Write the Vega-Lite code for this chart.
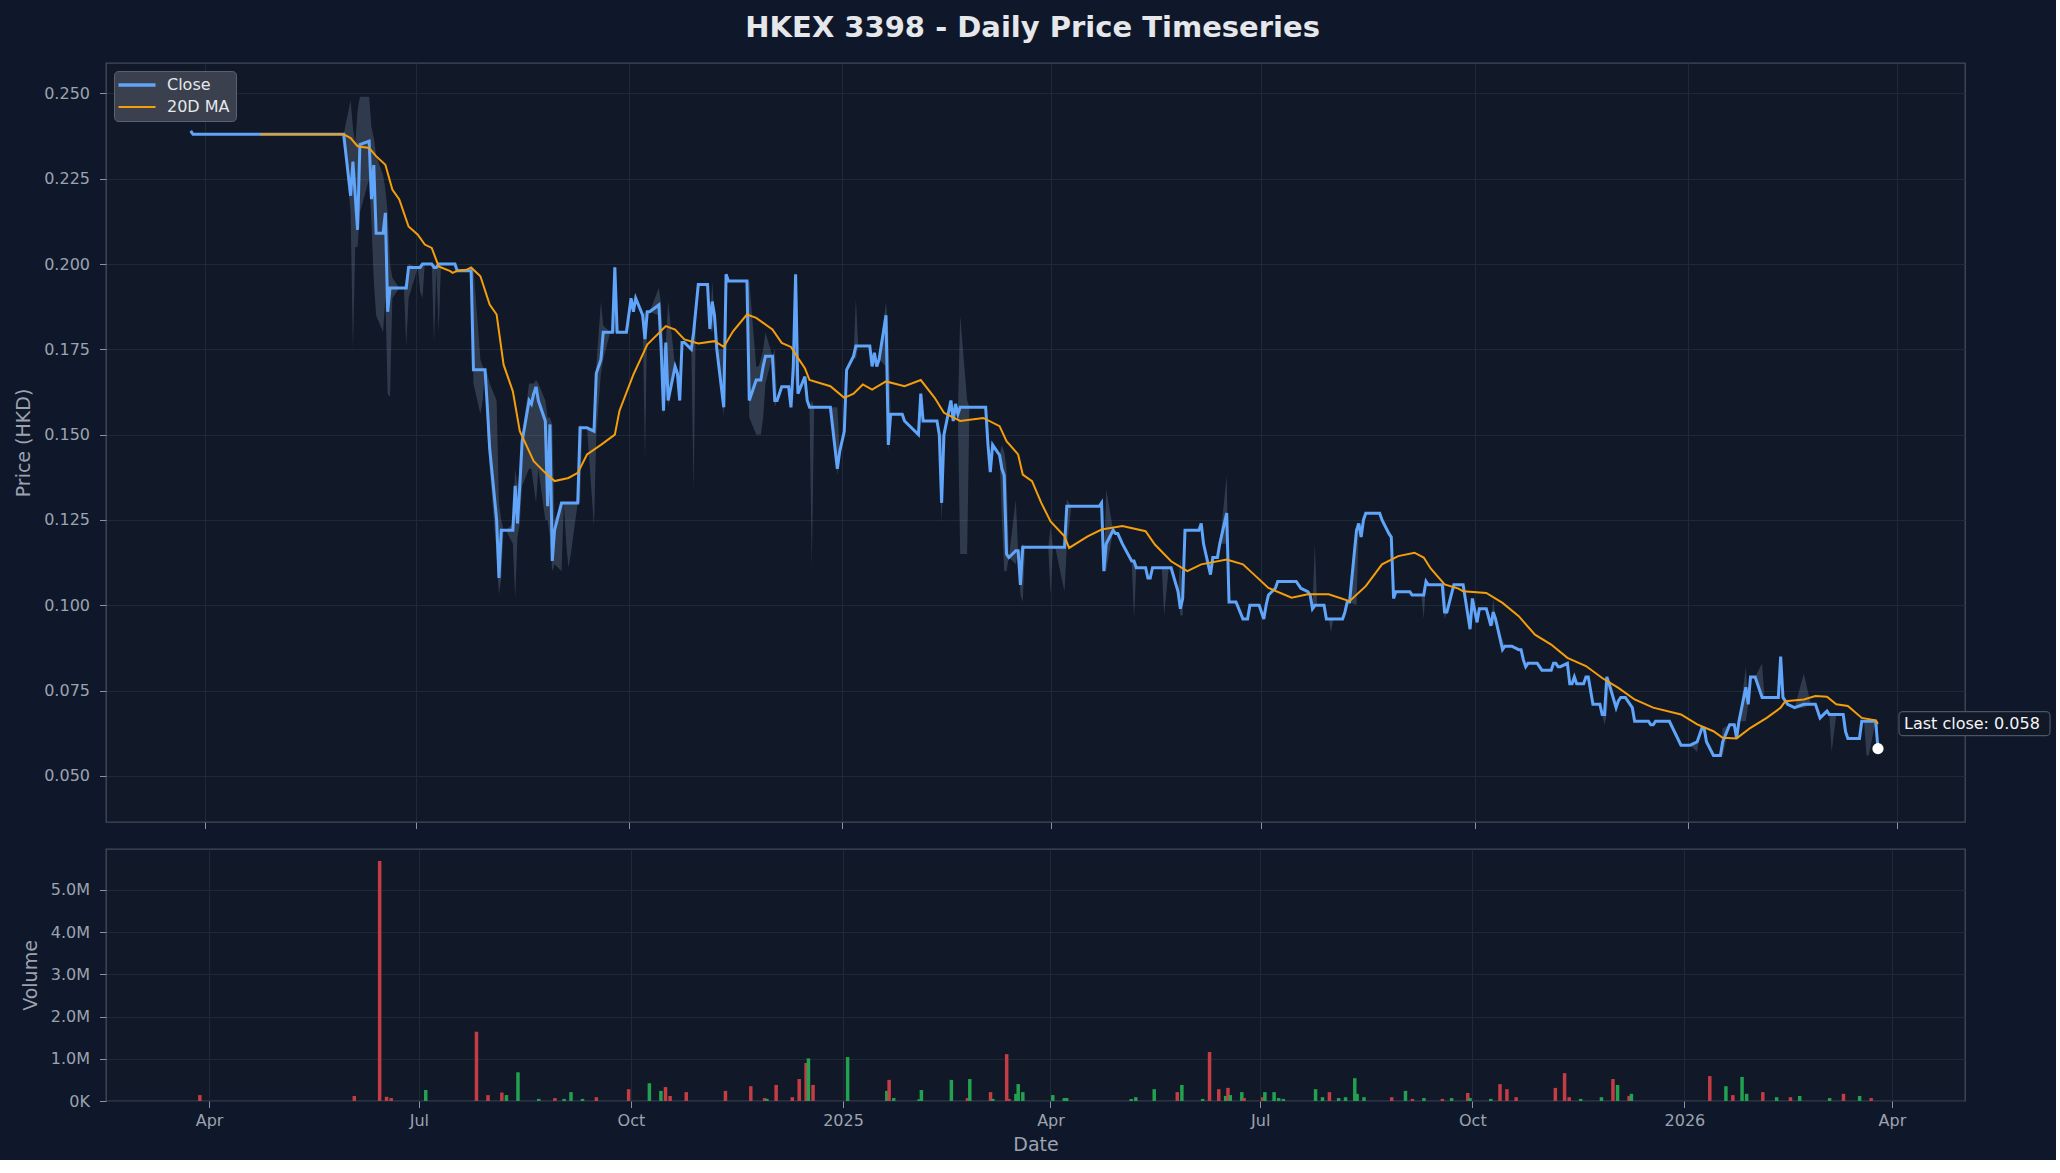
{
"$schema": "https://vega.github.io/schema/vega-lite/v6.json",
"background": "#0f172a",
"padding": {"left": 14, "top": 14, "right": 4, "bottom": 4},
"spacing": 18,
"resolve": {"scale": {"color": "independent"}, "legend": {"color": "independent"}},
"title": {"text": "HKEX 3398 - Daily Price Timeseries", "fontSize": 29, "fontWeight": "bold", "color": "#e5e7eb", "font": "DejaVu Sans", "anchor": "middle", "offset": 19},
"config": {
  "font": "DejaVu Sans",
  "view": {"fill": "#111827", "stroke": "#424b5c", "strokeWidth": 1.3},
  "axis": {"domain": false, "grid": true, "gridColor": "#1f2937", "gridWidth": 1, "tickColor": "#8b93a1", "tickSize": 6.5, "tickWidth": 1, "labelColor": "#9ca3af", "labelFontSize": 16, "labelFont": "DejaVu Sans", "titleColor": "#9ca3af", "titleFontSize": 19, "titleFontWeight": "normal", "titleFont": "DejaVu Sans", "labelPadding": 10, "titlePadding": 10}
},
"datasets": {
"px": [
{"date":"2024-03-26","close":0.239,"high":0.239,"low":0.239},
{"date":"2024-03-27","close":0.238,"high":0.238,"low":0.238},
{"date":"2024-04-12","close":0.238,"high":0.238,"low":0.238},
{"date":"2024-05-02","close":0.238,"high":0.238,"low":0.238},
{"date":"2024-05-31","close":0.238,"high":0.238,"low":0.238},
{"date":"2024-06-03","close":0.220,"high":0.248,"low":0.215},
{"date":"2024-06-04","close":0.230,"high":0.240,"low":0.175},
{"date":"2024-06-05","close":0.220,"high":0.235,"low":0.205},
{"date":"2024-06-06","close":0.210,"high":0.245,"low":0.205},
{"date":"2024-06-07","close":0.235,"high":0.249,"low":0.215},
{"date":"2024-06-11","close":0.236,"high":0.249,"low":0.225},
{"date":"2024-06-12","close":0.219,"high":0.240,"low":0.212},
{"date":"2024-06-13","close":0.229,"high":0.237,"low":0.195},
{"date":"2024-06-14","close":0.209,"high":0.232,"low":0.185},
{"date":"2024-06-17","close":0.209,"high":0.226,"low":0.180},
{"date":"2024-06-18","close":0.215,"high":0.222,"low":0.190},
{"date":"2024-06-19","close":0.186,"high":0.215,"low":0.162},
{"date":"2024-06-20","close":0.193,"high":0.200,"low":0.161},
{"date":"2024-06-21","close":0.193,"high":0.196,"low":0.190},
{"date":"2024-06-24","close":0.193,"high":0.193,"low":0.193},
{"date":"2024-06-25","close":0.193,"high":0.193,"low":0.193},
{"date":"2024-06-26","close":0.193,"high":0.193,"low":0.193},
{"date":"2024-06-27","close":0.193,"high":0.196,"low":0.176},
{"date":"2024-06-28","close":0.199,"high":0.200,"low":0.190},
{"date":"2024-07-02","close":0.199,"high":0.199,"low":0.199},
{"date":"2024-07-03","close":0.199,"high":0.199,"low":0.192},
{"date":"2024-07-04","close":0.200,"high":0.200,"low":0.190},
{"date":"2024-07-05","close":0.200,"high":0.200,"low":0.200},
{"date":"2024-07-08","close":0.200,"high":0.200,"low":0.200},
{"date":"2024-07-09","close":0.199,"high":0.200,"low":0.177},
{"date":"2024-07-10","close":0.199,"high":0.199,"low":0.199},
{"date":"2024-07-11","close":0.200,"high":0.200,"low":0.180},
{"date":"2024-07-12","close":0.200,"high":0.200,"low":0.200},
{"date":"2024-07-15","close":0.200,"high":0.200,"low":0.200},
{"date":"2024-07-17","close":0.200,"high":0.200,"low":0.200},
{"date":"2024-07-18","close":0.200,"high":0.200,"low":0.200},
{"date":"2024-07-19","close":0.198,"high":0.198,"low":0.198},
{"date":"2024-07-22","close":0.198,"high":0.198,"low":0.198},
{"date":"2024-07-24","close":0.198,"high":0.198,"low":0.198},
{"date":"2024-07-25","close":0.198,"high":0.198,"low":0.198},
{"date":"2024-07-26","close":0.169,"high":0.199,"low":0.165},
{"date":"2024-07-29","close":0.169,"high":0.172,"low":0.156},
{"date":"2024-07-30","close":0.169,"high":0.170,"low":0.160},
{"date":"2024-07-31","close":0.169,"high":0.169,"low":0.169},
{"date":"2024-08-01","close":0.158,"high":0.168,"low":0.150},
{"date":"2024-08-02","close":0.146,"high":0.165,"low":0.140},
{"date":"2024-08-05","close":0.125,"high":0.160,"low":0.115},
{"date":"2024-08-06","close":0.108,"high":0.130,"low":0.103},
{"date":"2024-08-07","close":0.122,"high":0.125,"low":0.108},
{"date":"2024-08-08","close":0.122,"high":0.122,"low":0.122},
{"date":"2024-08-09","close":0.122,"high":0.122,"low":0.122},
{"date":"2024-08-12","close":0.122,"high":0.124,"low":0.118},
{"date":"2024-08-13","close":0.135,"high":0.140,"low":0.102},
{"date":"2024-08-14","close":0.124,"high":0.135,"low":0.120},
{"date":"2024-08-15","close":0.135,"high":0.140,"low":0.124},
{"date":"2024-08-16","close":0.148,"high":0.150,"low":0.135},
{"date":"2024-08-19","close":0.160,"high":0.165,"low":0.140},
{"date":"2024-08-20","close":0.159,"high":0.165,"low":0.140},
{"date":"2024-08-21","close":0.162,"high":0.165,"low":0.135},
{"date":"2024-08-22","close":0.164,"high":0.166,"low":0.130},
{"date":"2024-08-23","close":0.160,"high":0.165,"low":0.140},
{"date":"2024-08-26","close":0.154,"high":0.160,"low":0.125},
{"date":"2024-08-27","close":0.129,"high":0.155,"low":0.125},
{"date":"2024-08-28","close":0.153,"high":0.155,"low":0.120},
{"date":"2024-08-29","close":0.113,"high":0.153,"low":0.110},
{"date":"2024-08-30","close":0.122,"high":0.125,"low":0.112},
{"date":"2024-09-02","close":0.130,"high":0.130,"low":0.110},
{"date":"2024-09-03","close":0.130,"high":0.130,"low":0.130},
{"date":"2024-09-04","close":0.130,"high":0.130,"low":0.118},
{"date":"2024-09-05","close":0.130,"high":0.130,"low":0.111},
{"date":"2024-09-06","close":0.130,"high":0.130,"low":0.115},
{"date":"2024-09-09","close":0.130,"high":0.130,"low":0.130},
{"date":"2024-09-10","close":0.152,"high":0.153,"low":0.130},
{"date":"2024-09-11","close":0.152,"high":0.152,"low":0.152},
{"date":"2024-09-12","close":0.152,"high":0.152,"low":0.152},
{"date":"2024-09-13","close":0.152,"high":0.152,"low":0.152},
{"date":"2024-09-16","close":0.151,"high":0.152,"low":0.123},
{"date":"2024-09-17","close":0.168,"high":0.170,"low":0.150},
{"date":"2024-09-19","close":0.172,"high":0.189,"low":0.168},
{"date":"2024-09-20","close":0.180,"high":0.182,"low":0.172},
{"date":"2024-09-23","close":0.180,"high":0.180,"low":0.180},
{"date":"2024-09-24","close":0.180,"high":0.180,"low":0.180},
{"date":"2024-09-25","close":0.199,"high":0.200,"low":0.180},
{"date":"2024-09-26","close":0.180,"high":0.180,"low":0.180},
{"date":"2024-09-27","close":0.180,"high":0.180,"low":0.180},
{"date":"2024-09-30","close":0.180,"high":0.180,"low":0.180},
{"date":"2024-10-02","close":0.190,"high":0.190,"low":0.190},
{"date":"2024-10-03","close":0.186,"high":0.186,"low":0.186},
{"date":"2024-10-04","close":0.190,"high":0.190,"low":0.190},
{"date":"2024-10-07","close":0.185,"high":0.185,"low":0.185},
{"date":"2024-10-08","close":0.178,"high":0.186,"low":0.142},
{"date":"2024-10-09","close":0.186,"high":0.186,"low":0.186},
{"date":"2024-10-10","close":0.186,"high":0.186,"low":0.186},
{"date":"2024-10-14","close":0.188,"high":0.193,"low":0.185},
{"date":"2024-10-15","close":0.175,"high":0.188,"low":0.170},
{"date":"2024-10-16","close":0.157,"high":0.175,"low":0.155},
{"date":"2024-10-17","close":0.177,"high":0.177,"low":0.177},
{"date":"2024-10-18","close":0.160,"high":0.189,"low":0.158},
{"date":"2024-10-21","close":0.170,"high":0.170,"low":0.170},
{"date":"2024-10-22","close":0.168,"high":0.168,"low":0.168},
{"date":"2024-10-23","close":0.160,"high":0.160,"low":0.160},
{"date":"2024-10-24","close":0.177,"high":0.177,"low":0.177},
{"date":"2024-10-25","close":0.177,"high":0.177,"low":0.177},
{"date":"2024-10-28","close":0.175,"high":0.175,"low":0.175},
{"date":"2024-10-29","close":0.180,"high":0.181,"low":0.133},
{"date":"2024-10-30","close":0.187,"high":0.187,"low":0.187},
{"date":"2024-10-31","close":0.194,"high":0.194,"low":0.194},
{"date":"2024-11-01","close":0.194,"high":0.194,"low":0.194},
{"date":"2024-11-04","close":0.194,"high":0.194,"low":0.194},
{"date":"2024-11-05","close":0.181,"high":0.181,"low":0.181},
{"date":"2024-11-06","close":0.189,"high":0.195,"low":0.180},
{"date":"2024-11-07","close":0.185,"high":0.185,"low":0.185},
{"date":"2024-11-08","close":0.175,"high":0.175,"low":0.175},
{"date":"2024-11-11","close":0.158,"high":0.175,"low":0.155},
{"date":"2024-11-12","close":0.197,"high":0.197,"low":0.197},
{"date":"2024-11-13","close":0.195,"high":0.195,"low":0.195},
{"date":"2024-11-15","close":0.195,"high":0.195,"low":0.195},
{"date":"2024-11-18","close":0.195,"high":0.195,"low":0.195},
{"date":"2024-11-20","close":0.195,"high":0.195,"low":0.195},
{"date":"2024-11-21","close":0.195,"high":0.195,"low":0.195},
{"date":"2024-11-22","close":0.160,"high":0.195,"low":0.155},
{"date":"2024-11-25","close":0.166,"high":0.170,"low":0.150},
{"date":"2024-11-26","close":0.166,"high":0.170,"low":0.150},
{"date":"2024-11-27","close":0.166,"high":0.172,"low":0.150},
{"date":"2024-11-28","close":0.170,"high":0.175,"low":0.155},
{"date":"2024-11-29","close":0.173,"high":0.180,"low":0.165},
{"date":"2024-12-02","close":0.173,"high":0.173,"low":0.173},
{"date":"2024-12-03","close":0.160,"high":0.175,"low":0.158},
{"date":"2024-12-04","close":0.160,"high":0.160,"low":0.160},
{"date":"2024-12-05","close":0.162,"high":0.162,"low":0.162},
{"date":"2024-12-06","close":0.164,"high":0.164,"low":0.164},
{"date":"2024-12-09","close":0.164,"high":0.164,"low":0.164},
{"date":"2024-12-10","close":0.158,"high":0.158,"low":0.158},
{"date":"2024-12-11","close":0.170,"high":0.170,"low":0.170},
{"date":"2024-12-12","close":0.197,"high":0.198,"low":0.165},
{"date":"2024-12-13","close":0.162,"high":0.162,"low":0.162},
{"date":"2024-12-16","close":0.167,"high":0.167,"low":0.167},
{"date":"2024-12-17","close":0.160,"high":0.160,"low":0.160},
{"date":"2024-12-18","close":0.158,"high":0.158,"low":0.158},
{"date":"2024-12-19","close":0.158,"high":0.160,"low":0.111},
{"date":"2024-12-20","close":0.158,"high":0.158,"low":0.158},
{"date":"2024-12-23","close":0.158,"high":0.158,"low":0.158},
{"date":"2024-12-24","close":0.158,"high":0.158,"low":0.158},
{"date":"2024-12-27","close":0.158,"high":0.158,"low":0.158},
{"date":"2024-12-30","close":0.140,"high":0.158,"low":0.138},
{"date":"2024-12-31","close":0.145,"high":0.145,"low":0.145},
{"date":"2025-01-02","close":0.151,"high":0.151,"low":0.151},
{"date":"2025-01-03","close":0.169,"high":0.169,"low":0.169},
{"date":"2025-01-06","close":0.173,"high":0.173,"low":0.173},
{"date":"2025-01-07","close":0.176,"high":0.190,"low":0.172},
{"date":"2025-01-08","close":0.176,"high":0.176,"low":0.176},
{"date":"2025-01-10","close":0.176,"high":0.176,"low":0.176},
{"date":"2025-01-13","close":0.176,"high":0.176,"low":0.176},
{"date":"2025-01-14","close":0.170,"high":0.170,"low":0.170},
{"date":"2025-01-15","close":0.174,"high":0.174,"low":0.174},
{"date":"2025-01-16","close":0.170,"high":0.170,"low":0.170},
{"date":"2025-01-17","close":0.172,"high":0.172,"low":0.172},
{"date":"2025-01-20","close":0.185,"high":0.189,"low":0.170},
{"date":"2025-01-21","close":0.147,"high":0.180,"low":0.145},
{"date":"2025-01-22","close":0.156,"high":0.156,"low":0.156},
{"date":"2025-01-23","close":0.156,"high":0.156,"low":0.156},
{"date":"2025-01-24","close":0.156,"high":0.156,"low":0.156},
{"date":"2025-01-27","close":0.156,"high":0.156,"low":0.156},
{"date":"2025-01-28","close":0.154,"high":0.154,"low":0.154},
{"date":"2025-02-03","close":0.150,"high":0.150,"low":0.150},
{"date":"2025-02-04","close":0.162,"high":0.162,"low":0.162},
{"date":"2025-02-05","close":0.154,"high":0.154,"low":0.154},
{"date":"2025-02-07","close":0.154,"high":0.154,"low":0.154},
{"date":"2025-02-10","close":0.154,"high":0.154,"low":0.154},
{"date":"2025-02-11","close":0.154,"high":0.154,"low":0.154},
{"date":"2025-02-12","close":0.150,"high":0.150,"low":0.150},
{"date":"2025-02-13","close":0.130,"high":0.150,"low":0.124},
{"date":"2025-02-14","close":0.150,"high":0.150,"low":0.150},
{"date":"2025-02-17","close":0.160,"high":0.160,"low":0.160},
{"date":"2025-02-18","close":0.154,"high":0.154,"low":0.154},
{"date":"2025-02-19","close":0.159,"high":0.159,"low":0.159},
{"date":"2025-02-20","close":0.156,"high":0.156,"low":0.156},
{"date":"2025-02-21","close":0.158,"high":0.185,"low":0.115},
{"date":"2025-02-24","close":0.158,"high":0.160,"low":0.115},
{"date":"2025-02-25","close":0.158,"high":0.158,"low":0.158},
{"date":"2025-02-27","close":0.158,"high":0.158,"low":0.158},
{"date":"2025-03-03","close":0.158,"high":0.158,"low":0.158},
{"date":"2025-03-04","close":0.158,"high":0.158,"low":0.158},
{"date":"2025-03-05","close":0.147,"high":0.147,"low":0.147},
{"date":"2025-03-06","close":0.139,"high":0.139,"low":0.139},
{"date":"2025-03-07","close":0.147,"high":0.147,"low":0.147},
{"date":"2025-03-10","close":0.144,"high":0.144,"low":0.144},
{"date":"2025-03-11","close":0.140,"high":0.147,"low":0.125},
{"date":"2025-03-12","close":0.138,"high":0.145,"low":0.110},
{"date":"2025-03-13","close":0.115,"high":0.140,"low":0.110},
{"date":"2025-03-14","close":0.114,"high":0.114,"low":0.114},
{"date":"2025-03-17","close":0.116,"high":0.131,"low":0.112},
{"date":"2025-03-18","close":0.116,"high":0.116,"low":0.116},
{"date":"2025-03-19","close":0.106,"high":0.116,"low":0.103},
{"date":"2025-03-20","close":0.117,"high":0.118,"low":0.101},
{"date":"2025-03-21","close":0.117,"high":0.117,"low":0.117},
{"date":"2025-03-24","close":0.117,"high":0.117,"low":0.117},
{"date":"2025-03-27","close":0.117,"high":0.117,"low":0.117},
{"date":"2025-03-31","close":0.117,"high":0.117,"low":0.117},
{"date":"2025-04-01","close":0.117,"high":0.123,"low":0.103},
{"date":"2025-04-02","close":0.117,"high":0.117,"low":0.117},
{"date":"2025-04-03","close":0.117,"high":0.117,"low":0.117},
{"date":"2025-04-07","close":0.117,"high":0.117,"low":0.104},
{"date":"2025-04-08","close":0.129,"high":0.131,"low":0.117},
{"date":"2025-04-10","close":0.129,"high":0.129,"low":0.129},
{"date":"2025-04-14","close":0.129,"high":0.129,"low":0.129},
{"date":"2025-04-17","close":0.129,"high":0.129,"low":0.129},
{"date":"2025-04-22","close":0.129,"high":0.129,"low":0.129},
{"date":"2025-04-23","close":0.130,"high":0.130,"low":0.130},
{"date":"2025-04-24","close":0.110,"high":0.110,"low":0.110},
{"date":"2025-04-25","close":0.118,"high":0.134,"low":0.110},
{"date":"2025-04-28","close":0.122,"high":0.122,"low":0.122},
{"date":"2025-04-29","close":0.121,"high":0.121,"low":0.121},
{"date":"2025-04-30","close":0.121,"high":0.121,"low":0.121},
{"date":"2025-05-02","close":0.118,"high":0.118,"low":0.118},
{"date":"2025-05-06","close":0.113,"high":0.113,"low":0.113},
{"date":"2025-05-07","close":0.113,"high":0.113,"low":0.096},
{"date":"2025-05-08","close":0.111,"high":0.111,"low":0.111},
{"date":"2025-05-09","close":0.111,"high":0.111,"low":0.111},
{"date":"2025-05-12","close":0.111,"high":0.111,"low":0.111},
{"date":"2025-05-13","close":0.108,"high":0.108,"low":0.108},
{"date":"2025-05-14","close":0.108,"high":0.108,"low":0.108},
{"date":"2025-05-15","close":0.111,"high":0.111,"low":0.111},
{"date":"2025-05-16","close":0.111,"high":0.111,"low":0.111},
{"date":"2025-05-19","close":0.111,"high":0.111,"low":0.111},
{"date":"2025-05-20","close":0.111,"high":0.111,"low":0.097},
{"date":"2025-05-22","close":0.111,"high":0.111,"low":0.111},
{"date":"2025-05-23","close":0.111,"high":0.111,"low":0.111},
{"date":"2025-05-26","close":0.104,"high":0.104,"low":0.104},
{"date":"2025-05-27","close":0.099,"high":0.114,"low":0.097},
{"date":"2025-05-28","close":0.102,"high":0.104,"low":0.097},
{"date":"2025-05-29","close":0.122,"high":0.122,"low":0.122},
{"date":"2025-05-30","close":0.122,"high":0.122,"low":0.122},
{"date":"2025-06-02","close":0.122,"high":0.122,"low":0.122},
{"date":"2025-06-04","close":0.122,"high":0.122,"low":0.122},
{"date":"2025-06-05","close":0.124,"high":0.124,"low":0.124},
{"date":"2025-06-06","close":0.118,"high":0.118,"low":0.118},
{"date":"2025-06-09","close":0.109,"high":0.109,"low":0.109},
{"date":"2025-06-10","close":0.114,"high":0.114,"low":0.114},
{"date":"2025-06-12","close":0.114,"high":0.114,"low":0.114},
{"date":"2025-06-13","close":0.118,"high":0.118,"low":0.118},
{"date":"2025-06-16","close":0.127,"high":0.138,"low":0.118},
{"date":"2025-06-17","close":0.101,"high":0.101,"low":0.101},
{"date":"2025-06-18","close":0.101,"high":0.101,"low":0.101},
{"date":"2025-06-20","close":0.101,"high":0.101,"low":0.101},
{"date":"2025-06-23","close":0.096,"high":0.096,"low":0.096},
{"date":"2025-06-24","close":0.096,"high":0.096,"low":0.096},
{"date":"2025-06-25","close":0.096,"high":0.096,"low":0.096},
{"date":"2025-06-26","close":0.100,"high":0.100,"low":0.100},
{"date":"2025-06-27","close":0.100,"high":0.100,"low":0.100},
{"date":"2025-06-30","close":0.100,"high":0.100,"low":0.100},
{"date":"2025-07-02","close":0.096,"high":0.096,"low":0.096},
{"date":"2025-07-03","close":0.100,"high":0.100,"low":0.100},
{"date":"2025-07-04","close":0.103,"high":0.103,"low":0.103},
{"date":"2025-07-07","close":0.105,"high":0.105,"low":0.105},
{"date":"2025-07-08","close":0.107,"high":0.107,"low":0.107},
{"date":"2025-07-10","close":0.107,"high":0.107,"low":0.107},
{"date":"2025-07-14","close":0.107,"high":0.107,"low":0.107},
{"date":"2025-07-16","close":0.107,"high":0.107,"low":0.107},
{"date":"2025-07-17","close":0.106,"high":0.106,"low":0.106},
{"date":"2025-07-18","close":0.105,"high":0.105,"low":0.105},
{"date":"2025-07-21","close":0.104,"high":0.104,"low":0.104},
{"date":"2025-07-22","close":0.103,"high":0.103,"low":0.103},
{"date":"2025-07-23","close":0.099,"high":0.099,"low":0.099},
{"date":"2025-07-24","close":0.100,"high":0.118,"low":0.099},
{"date":"2025-07-25","close":0.100,"high":0.100,"low":0.100},
{"date":"2025-07-28","close":0.100,"high":0.100,"low":0.100},
{"date":"2025-07-29","close":0.096,"high":0.096,"low":0.096},
{"date":"2025-07-30","close":0.096,"high":0.096,"low":0.096},
{"date":"2025-07-31","close":0.096,"high":0.096,"low":0.092},
{"date":"2025-08-01","close":0.096,"high":0.096,"low":0.096},
{"date":"2025-08-05","close":0.096,"high":0.096,"low":0.096},
{"date":"2025-08-06","close":0.098,"high":0.098,"low":0.098},
{"date":"2025-08-07","close":0.101,"high":0.101,"low":0.101},
{"date":"2025-08-08","close":0.101,"high":0.101,"low":0.101},
{"date":"2025-08-11","close":0.122,"high":0.124,"low":0.100},
{"date":"2025-08-12","close":0.124,"high":0.124,"low":0.124},
{"date":"2025-08-13","close":0.120,"high":0.120,"low":0.120},
{"date":"2025-08-14","close":0.125,"high":0.125,"low":0.125},
{"date":"2025-08-15","close":0.127,"high":0.127,"low":0.127},
{"date":"2025-08-18","close":0.127,"high":0.127,"low":0.127},
{"date":"2025-08-20","close":0.127,"high":0.127,"low":0.127},
{"date":"2025-08-21","close":0.127,"high":0.127,"low":0.127},
{"date":"2025-08-22","close":0.125,"high":0.125,"low":0.125},
{"date":"2025-08-25","close":0.121,"high":0.121,"low":0.121},
{"date":"2025-08-26","close":0.120,"high":0.120,"low":0.120},
{"date":"2025-08-27","close":0.102,"high":0.102,"low":0.102},
{"date":"2025-08-28","close":0.104,"high":0.104,"low":0.104},
{"date":"2025-08-29","close":0.104,"high":0.104,"low":0.104},
{"date":"2025-09-01","close":0.104,"high":0.104,"low":0.104},
{"date":"2025-09-03","close":0.104,"high":0.104,"low":0.104},
{"date":"2025-09-04","close":0.103,"high":0.103,"low":0.103},
{"date":"2025-09-05","close":0.103,"high":0.103,"low":0.103},
{"date":"2025-09-08","close":0.103,"high":0.103,"low":0.103},
{"date":"2025-09-09","close":0.103,"high":0.103,"low":0.096},
{"date":"2025-09-10","close":0.107,"high":0.107,"low":0.107},
{"date":"2025-09-11","close":0.106,"high":0.106,"low":0.106},
{"date":"2025-09-15","close":0.106,"high":0.106,"low":0.106},
{"date":"2025-09-17","close":0.106,"high":0.106,"low":0.106},
{"date":"2025-09-18","close":0.098,"high":0.106,"low":0.096},
{"date":"2025-09-19","close":0.098,"high":0.098,"low":0.098},
{"date":"2025-09-22","close":0.106,"high":0.106,"low":0.106},
{"date":"2025-09-24","close":0.106,"high":0.106,"low":0.106},
{"date":"2025-09-26","close":0.106,"high":0.106,"low":0.106},
{"date":"2025-09-29","close":0.093,"high":0.093,"low":0.093},
{"date":"2025-09-30","close":0.102,"high":0.102,"low":0.102},
{"date":"2025-10-02","close":0.095,"high":0.095,"low":0.095},
{"date":"2025-10-03","close":0.099,"high":0.099,"low":0.099},
{"date":"2025-10-06","close":0.099,"high":0.099,"low":0.099},
{"date":"2025-10-08","close":0.094,"high":0.094,"low":0.094},
{"date":"2025-10-09","close":0.098,"high":0.102,"low":0.094},
{"date":"2025-10-10","close":0.096,"high":0.096,"low":0.096},
{"date":"2025-10-13","close":0.087,"high":0.090,"low":0.087},
{"date":"2025-10-14","close":0.088,"high":0.088,"low":0.088},
{"date":"2025-10-15","close":0.088,"high":0.088,"low":0.088},
{"date":"2025-10-16","close":0.088,"high":0.088,"low":0.088},
{"date":"2025-10-17","close":0.088,"high":0.088,"low":0.088},
{"date":"2025-10-20","close":0.087,"high":0.087,"low":0.087},
{"date":"2025-10-21","close":0.087,"high":0.087,"low":0.087},
{"date":"2025-10-22","close":0.084,"high":0.084,"low":0.084},
{"date":"2025-10-23","close":0.082,"high":0.082,"low":0.082},
{"date":"2025-10-24","close":0.083,"high":0.083,"low":0.083},
{"date":"2025-10-28","close":0.083,"high":0.083,"low":0.083},
{"date":"2025-10-30","close":0.081,"high":0.081,"low":0.081},
{"date":"2025-10-31","close":0.081,"high":0.081,"low":0.081},
{"date":"2025-11-03","close":0.081,"high":0.081,"low":0.081},
{"date":"2025-11-04","close":0.083,"high":0.083,"low":0.083},
{"date":"2025-11-05","close":0.083,"high":0.083,"low":0.083},
{"date":"2025-11-06","close":0.082,"high":0.082,"low":0.082},
{"date":"2025-11-07","close":0.082,"high":0.082,"low":0.082},
{"date":"2025-11-10","close":0.083,"high":0.083,"low":0.083},
{"date":"2025-11-11","close":0.077,"high":0.077,"low":0.077},
{"date":"2025-11-12","close":0.077,"high":0.077,"low":0.077},
{"date":"2025-11-13","close":0.079,"high":0.079,"low":0.079},
{"date":"2025-11-14","close":0.077,"high":0.077,"low":0.077},
{"date":"2025-11-17","close":0.077,"high":0.077,"low":0.077},
{"date":"2025-11-18","close":0.079,"high":0.079,"low":0.079},
{"date":"2025-11-19","close":0.079,"high":0.079,"low":0.079},
{"date":"2025-11-20","close":0.075,"high":0.075,"low":0.075},
{"date":"2025-11-21","close":0.071,"high":0.071,"low":0.071},
{"date":"2025-11-24","close":0.071,"high":0.071,"low":0.071},
{"date":"2025-11-25","close":0.068,"high":0.068,"low":0.068},
{"date":"2025-11-26","close":0.068,"high":0.068,"low":0.065},
{"date":"2025-11-27","close":0.079,"high":0.079,"low":0.068},
{"date":"2025-11-28","close":0.077,"high":0.077,"low":0.077},
{"date":"2025-12-01","close":0.070,"high":0.070,"low":0.070},
{"date":"2025-12-02","close":0.072,"high":0.072,"low":0.072},
{"date":"2025-12-03","close":0.073,"high":0.073,"low":0.073},
{"date":"2025-12-05","close":0.073,"high":0.073,"low":0.073},
{"date":"2025-12-08","close":0.070,"high":0.070,"low":0.070},
{"date":"2025-12-09","close":0.066,"high":0.066,"low":0.066},
{"date":"2025-12-10","close":0.066,"high":0.066,"low":0.066},
{"date":"2025-12-15","close":0.066,"high":0.066,"low":0.066},
{"date":"2025-12-16","close":0.065,"high":0.065,"low":0.065},
{"date":"2025-12-17","close":0.065,"high":0.065,"low":0.065},
{"date":"2025-12-18","close":0.066,"high":0.066,"low":0.066},
{"date":"2025-12-24","close":0.066,"high":0.066,"low":0.066},
{"date":"2025-12-29","close":0.059,"high":0.059,"low":0.059},
{"date":"2025-12-30","close":0.059,"high":0.059,"low":0.059},
{"date":"2025-12-31","close":0.059,"high":0.059,"low":0.059},
{"date":"2026-01-02","close":0.059,"high":0.059,"low":0.059},
{"date":"2026-01-05","close":0.060,"high":0.060,"low":0.057},
{"date":"2026-01-06","close":0.062,"high":0.062,"low":0.062},
{"date":"2026-01-07","close":0.064,"high":0.064,"low":0.064},
{"date":"2026-01-08","close":0.064,"high":0.064,"low":0.064},
{"date":"2026-01-09","close":0.060,"high":0.060,"low":0.060},
{"date":"2026-01-12","close":0.056,"high":0.056,"low":0.056},
{"date":"2026-01-13","close":0.056,"high":0.056,"low":0.056},
{"date":"2026-01-15","close":0.056,"high":0.056,"low":0.056},
{"date":"2026-01-16","close":0.060,"high":0.064,"low":0.056},
{"date":"2026-01-19","close":0.065,"high":0.065,"low":0.065},
{"date":"2026-01-20","close":0.065,"high":0.065,"low":0.065},
{"date":"2026-01-21","close":0.065,"high":0.065,"low":0.065},
{"date":"2026-01-22","close":0.061,"high":0.061,"low":0.061},
{"date":"2026-01-23","close":0.066,"high":0.066,"low":0.066},
{"date":"2026-01-26","close":0.076,"high":0.082,"low":0.066},
{"date":"2026-01-27","close":0.071,"high":0.071,"low":0.071},
{"date":"2026-01-28","close":0.079,"high":0.079,"low":0.079},
{"date":"2026-01-29","close":0.079,"high":0.079,"low":0.079},
{"date":"2026-01-30","close":0.079,"high":0.079,"low":0.079},
{"date":"2026-02-02","close":0.073,"high":0.083,"low":0.073},
{"date":"2026-02-03","close":0.073,"high":0.073,"low":0.073},
{"date":"2026-02-05","close":0.073,"high":0.073,"low":0.073},
{"date":"2026-02-06","close":0.073,"high":0.073,"low":0.073},
{"date":"2026-02-09","close":0.073,"high":0.073,"low":0.073},
{"date":"2026-02-10","close":0.085,"high":0.085,"low":0.085},
{"date":"2026-02-11","close":0.073,"high":0.073,"low":0.073},
{"date":"2026-02-12","close":0.072,"high":0.072,"low":0.072},
{"date":"2026-02-13","close":0.071,"high":0.071,"low":0.071},
{"date":"2026-02-16","close":0.070,"high":0.070,"low":0.070},
{"date":"2026-02-20","close":0.071,"high":0.080,"low":0.070},
{"date":"2026-02-23","close":0.071,"high":0.071,"low":0.071},
{"date":"2026-02-25","close":0.071,"high":0.071,"low":0.071},
{"date":"2026-02-26","close":0.069,"high":0.069,"low":0.069},
{"date":"2026-02-27","close":0.067,"high":0.067,"low":0.067},
{"date":"2026-03-02","close":0.069,"high":0.069,"low":0.069},
{"date":"2026-03-03","close":0.068,"high":0.068,"low":0.068},
{"date":"2026-03-04","close":0.068,"high":0.068,"low":0.057},
{"date":"2026-03-06","close":0.068,"high":0.068,"low":0.068},
{"date":"2026-03-09","close":0.068,"high":0.068,"low":0.068},
{"date":"2026-03-10","close":0.063,"high":0.063,"low":0.063},
{"date":"2026-03-11","close":0.061,"high":0.061,"low":0.061},
{"date":"2026-03-13","close":0.061,"high":0.061,"low":0.061},
{"date":"2026-03-16","close":0.061,"high":0.061,"low":0.061},
{"date":"2026-03-17","close":0.066,"high":0.066,"low":0.066},
{"date":"2026-03-18","close":0.066,"high":0.066,"low":0.066},
{"date":"2026-03-19","close":0.066,"high":0.066,"low":0.056},
{"date":"2026-03-20","close":0.066,"high":0.066,"low":0.056},
{"date":"2026-03-23","close":0.066,"high":0.066,"low":0.066},
{"date":"2026-03-24","close":0.058,"high":0.066,"low":0.058}
],
"ma": [
{"date":"2024-04-25","ma":0.238},{"date":"2024-05-31","ma":0.238},{"date":"2024-06-03","ma":0.2369},{"date":"2024-06-06","ma":0.2345},{"date":"2024-06-11","ma":0.2340},{"date":"2024-06-14","ma":0.2316},{"date":"2024-06-18","ma":0.2291},{"date":"2024-06-21","ma":0.2218},{"date":"2024-06-24","ma":0.2189},{"date":"2024-06-28","ma":0.2110},{"date":"2024-07-02","ma":0.2086},{"date":"2024-07-05","ma":0.2057},{"date":"2024-07-08","ma":0.2047},{"date":"2024-07-11","ma":0.1993},{"date":"2024-07-16","ma":0.1979},{"date":"2024-07-17","ma":0.1974},{"date":"2024-07-19","ma":0.1980},{"date":"2024-07-23","ma":0.1983},{"date":"2024-07-25","ma":0.1990},{"date":"2024-07-29","ma":0.1964},{"date":"2024-08-02","ma":0.1881},{"date":"2024-08-05","ma":0.1852},{"date":"2024-08-08","ma":0.1705},{"date":"2024-08-12","ma":0.1627},{"date":"2024-08-15","ma":0.1510},{"date":"2024-08-21","ma":0.1422},{"date":"2024-08-26","ma":0.1388},{"date":"2024-08-30","ma":0.1364},{"date":"2024-09-05","ma":0.1373},{"date":"2024-09-09","ma":0.1388},{"date":"2024-09-13","ma":0.1442},{"date":"2024-09-19","ma":0.1470},{"date":"2024-09-25","ma":0.1500},{"date":"2024-09-27","ma":0.1570},{"date":"2024-10-03","ma":0.1676},{"date":"2024-10-09","ma":0.1764},{"date":"2024-10-17","ma":0.1818},{"date":"2024-10-21","ma":0.1808},{"date":"2024-10-25","ma":0.1779},{"date":"2024-10-31","ma":0.1767},{"date":"2024-11-07","ma":0.1774},{"date":"2024-11-11","ma":0.1757},{"date":"2024-11-15","ma":0.1803},{"date":"2024-11-21","ma":0.1852},{"date":"2024-11-25","ma":0.1842},{"date":"2024-12-02","ma":0.1808},{"date":"2024-12-06","ma":0.1769},{"date":"2024-12-10","ma":0.1757},{"date":"2024-12-13","ma":0.1725},{"date":"2024-12-16","ma":0.1695},{"date":"2024-12-18","ma":0.1660},{"date":"2024-12-27","ma":0.1642},{"date":"2025-01-02","ma":0.1608},{"date":"2025-01-06","ma":0.1620},{"date":"2025-01-10","ma":0.1647},{"date":"2025-01-14","ma":0.1632},{"date":"2025-01-20","ma":0.1656},{"date":"2025-01-28","ma":0.1642},{"date":"2025-02-04","ma":0.1660},{"date":"2025-02-10","ma":0.1608},{"date":"2025-02-14","ma":0.1564},{"date":"2025-02-21","ma":0.1540},{"date":"2025-03-03","ma":0.1549},{"date":"2025-03-10","ma":0.1525},{"date":"2025-03-13","ma":0.1481},{"date":"2025-03-18","ma":0.1442},{"date":"2025-03-20","ma":0.1383},{"date":"2025-03-24","ma":0.1364},{"date":"2025-03-28","ma":0.1300},{"date":"2025-04-01","ma":0.1246},{"date":"2025-04-07","ma":0.1202},{"date":"2025-04-09","ma":0.1168},{"date":"2025-04-17","ma":0.1202},{"date":"2025-04-23","ma":0.1222},{"date":"2025-05-02","ma":0.1232},{"date":"2025-05-12","ma":0.1217},{"date":"2025-05-16","ma":0.1178},{"date":"2025-05-23","ma":0.1129},{"date":"2025-05-30","ma":0.1100},{"date":"2025-06-05","ma":0.1120},{"date":"2025-06-16","ma":0.1134},{"date":"2025-06-23","ma":0.1120},{"date":"2025-06-27","ma":0.1095},{"date":"2025-07-04","ma":0.1051},{"date":"2025-07-14","ma":0.1022},{"date":"2025-07-21","ma":0.1032},{"date":"2025-07-30","ma":0.1032},{"date":"2025-08-08","ma":0.1012},{"date":"2025-08-15","ma":0.1056},{"date":"2025-08-22","ma":0.1120},{"date":"2025-08-29","ma":0.1144},{"date":"2025-09-05","ma":0.1154},{"date":"2025-09-09","ma":0.1140},{"date":"2025-09-12","ma":0.1108},{"date":"2025-09-18","ma":0.1061},{"date":"2025-09-24","ma":0.1049},{"date":"2025-09-26","ma":0.1041},{"date":"2025-10-06","ma":0.1036},{"date":"2025-10-13","ma":0.1007},{"date":"2025-10-20","ma":0.0968},{"date":"2025-10-27","ma":0.0914},{"date":"2025-11-03","ma":0.0885},{"date":"2025-11-10","ma":0.0846},{"date":"2025-11-18","ma":0.0822},{"date":"2025-11-25","ma":0.0787},{"date":"2025-12-02","ma":0.0758},{"date":"2025-12-09","ma":0.0724},{"date":"2025-12-17","ma":0.0700},{"date":"2025-12-29","ma":0.0680},{"date":"2026-01-05","ma":0.0651},{"date":"2026-01-12","ma":0.0631},{"date":"2026-01-16","ma":0.0612},{"date":"2026-01-22","ma":0.0610},{"date":"2026-01-28","ma":0.0641},{"date":"2026-02-04","ma":0.0670},{"date":"2026-02-10","ma":0.0700},{"date":"2026-02-12","ma":0.0719},{"date":"2026-02-20","ma":0.0724},{"date":"2026-02-25","ma":0.0734},{"date":"2026-03-02","ma":0.0732},{"date":"2026-03-06","ma":0.0710},{"date":"2026-03-11","ma":0.0705},{"date":"2026-03-17","ma":0.0670},{"date":"2026-03-23","ma":0.0663},{"date":"2026-03-24","ma":0.0653}
],
"vol": [
{"date":"2024-03-28","volume":140000,"dir":"down"},{"date":"2024-06-03","volume":120000,"dir":"down"},{"date":"2024-06-14","volume":5680000,"dir":"down"},{"date":"2024-06-17","volume":100000,"dir":"down"},{"date":"2024-06-19","volume":70000,"dir":"down"},{"date":"2024-07-04","volume":260000,"dir":"up"},{"date":"2024-07-26","volume":1640000,"dir":"down"},{"date":"2024-07-31","volume":140000,"dir":"down"},{"date":"2024-08-06","volume":200000,"dir":"down"},{"date":"2024-08-08","volume":140000,"dir":"up"},{"date":"2024-08-13","volume":680000,"dir":"up"},{"date":"2024-08-22","volume":50000,"dir":"up"},{"date":"2024-08-29","volume":70000,"dir":"down"},{"date":"2024-09-02","volume":50000,"dir":"up"},{"date":"2024-09-05","volume":210000,"dir":"up"},{"date":"2024-09-10","volume":50000,"dir":"up"},{"date":"2024-09-16","volume":90000,"dir":"down"},{"date":"2024-09-30","volume":280000,"dir":"down"},{"date":"2024-10-09","volume":420000,"dir":"up"},{"date":"2024-10-14","volume":240000,"dir":"up"},{"date":"2024-10-16","volume":330000,"dir":"down"},{"date":"2024-10-18","volume":120000,"dir":"down"},{"date":"2024-10-25","volume":210000,"dir":"down"},{"date":"2024-11-11","volume":240000,"dir":"down"},{"date":"2024-11-22","volume":350000,"dir":"down"},{"date":"2024-11-28","volume":70000,"dir":"down"},{"date":"2024-11-29","volume":50000,"dir":"up"},{"date":"2024-12-03","volume":380000,"dir":"down"},{"date":"2024-12-10","volume":90000,"dir":"down"},{"date":"2024-12-13","volume":520000,"dir":"down"},{"date":"2024-12-16","volume":900000,"dir":"down"},{"date":"2024-12-17","volume":1010000,"dir":"up"},{"date":"2024-12-19","volume":380000,"dir":"down"},{"date":"2025-01-03","volume":1040000,"dir":"up"},{"date":"2025-01-20","volume":240000,"dir":"up"},{"date":"2025-01-21","volume":500000,"dir":"down"},{"date":"2025-01-23","volume":70000,"dir":"up"},{"date":"2025-02-03","volume":40000,"dir":"up"},{"date":"2025-02-04","volume":260000,"dir":"up"},{"date":"2025-02-17","volume":500000,"dir":"up"},{"date":"2025-02-24","volume":70000,"dir":"down"},{"date":"2025-02-25","volume":520000,"dir":"up"},{"date":"2025-03-06","volume":210000,"dir":"down"},{"date":"2025-03-07","volume":50000,"dir":"up"},{"date":"2025-03-13","volume":1110000,"dir":"down"},{"date":"2025-03-14","volume":50000,"dir":"down"},{"date":"2025-03-17","volume":170000,"dir":"up"},{"date":"2025-03-18","volume":400000,"dir":"up"},{"date":"2025-03-20","volume":210000,"dir":"up"},{"date":"2025-04-02","volume":140000,"dir":"up"},{"date":"2025-04-07","volume":70000,"dir":"up"},{"date":"2025-04-08","volume":70000,"dir":"up"},{"date":"2025-05-06","volume":50000,"dir":"up"},{"date":"2025-05-08","volume":90000,"dir":"up"},{"date":"2025-05-16","volume":280000,"dir":"up"},{"date":"2025-05-26","volume":210000,"dir":"down"},{"date":"2025-05-28","volume":380000,"dir":"up"},{"date":"2025-06-06","volume":50000,"dir":"up"},{"date":"2025-06-09","volume":1160000,"dir":"down"},{"date":"2025-06-13","volume":280000,"dir":"down"},{"date":"2025-06-16","volume":120000,"dir":"up"},{"date":"2025-06-17","volume":310000,"dir":"down"},{"date":"2025-06-18","volume":140000,"dir":"up"},{"date":"2025-06-23","volume":210000,"dir":"up"},{"date":"2025-06-24","volume":70000,"dir":"down"},{"date":"2025-07-02","volume":90000,"dir":"down"},{"date":"2025-07-03","volume":210000,"dir":"up"},{"date":"2025-07-07","volume":210000,"dir":"up"},{"date":"2025-07-09","volume":70000,"dir":"up"},{"date":"2025-07-11","volume":50000,"dir":"up"},{"date":"2025-07-25","volume":280000,"dir":"up"},{"date":"2025-07-28","volume":90000,"dir":"up"},{"date":"2025-07-31","volume":210000,"dir":"down"},{"date":"2025-08-04","volume":70000,"dir":"up"},{"date":"2025-08-07","volume":90000,"dir":"up"},{"date":"2025-08-11","volume":540000,"dir":"up"},{"date":"2025-08-12","volume":170000,"dir":"up"},{"date":"2025-08-15","volume":90000,"dir":"up"},{"date":"2025-08-27","volume":90000,"dir":"down"},{"date":"2025-09-02","volume":240000,"dir":"up"},{"date":"2025-09-05","volume":50000,"dir":"down"},{"date":"2025-09-10","volume":70000,"dir":"up"},{"date":"2025-09-18","volume":50000,"dir":"down"},{"date":"2025-09-22","volume":70000,"dir":"up"},{"date":"2025-09-29","volume":190000,"dir":"down"},{"date":"2025-09-30","volume":70000,"dir":"up"},{"date":"2025-10-09","volume":50000,"dir":"up"},{"date":"2025-10-13","volume":400000,"dir":"down"},{"date":"2025-10-16","volume":280000,"dir":"down"},{"date":"2025-10-20","volume":90000,"dir":"down"},{"date":"2025-11-06","volume":310000,"dir":"down"},{"date":"2025-11-10","volume":660000,"dir":"down"},{"date":"2025-11-12","volume":90000,"dir":"down"},{"date":"2025-11-17","volume":50000,"dir":"up"},{"date":"2025-11-26","volume":90000,"dir":"up"},{"date":"2025-12-01","volume":520000,"dir":"down"},{"date":"2025-12-03","volume":380000,"dir":"up"},{"date":"2025-12-08","volume":120000,"dir":"down"},{"date":"2025-12-09","volume":170000,"dir":"up"},{"date":"2026-01-12","volume":590000,"dir":"down"},{"date":"2026-01-19","volume":350000,"dir":"up"},{"date":"2026-01-22","volume":140000,"dir":"down"},{"date":"2026-01-26","volume":570000,"dir":"up"},{"date":"2026-01-28","volume":170000,"dir":"up"},{"date":"2026-02-04","volume":210000,"dir":"down"},{"date":"2026-02-10","volume":90000,"dir":"up"},{"date":"2026-02-16","volume":90000,"dir":"down"},{"date":"2026-02-20","volume":120000,"dir":"up"},{"date":"2026-03-05","volume":70000,"dir":"up"},{"date":"2026-03-11","volume":170000,"dir":"down"},{"date":"2026-03-18","volume":120000,"dir":"up"},{"date":"2026-03-23","volume":70000,"dir":"down"}
],
"last": [{"date":"2026-03-24","close":0.058,"label":"Last close: 0.058"}]
},
"vconcat": [
{
"width": 1859, "height": 759,
"layer": [
{"data": {"name": "px"}, "mark": {"type": "area", "color": "#8da2c0", "opacity": 0.25},
 "encoding": {
  "x": {"field": "date", "type": "temporal", "scale": {"type": "utc", "domain": [1708254144000, 1777553856000]},
        "axis": {"values": [1711929600000,1719792000000,1727740800000,1735689600000,1743465600000,1751328000000,1759276800000,1767225600000,1775001600000], "labels": false, "title": null}},
  "y": {"field": "low", "type": "quantitative", "scale": {"domain": [0.0365, 0.2589], "nice": false, "zero": false},
        "axis": {"title": "Price (HKD)", "values": [0.05,0.075,0.1,0.125,0.15,0.175,0.2,0.225,0.25], "format": ".3f"}},
  "y2": {"field": "high"}
 }},
{"data": {"name": "px"}, "mark": {"type": "line", "strokeWidth": 3},
 "encoding": {
  "x": {"field": "date", "type": "temporal"},
  "y": {"field": "close", "type": "quantitative"},
  "color": {"datum": "Close", "scale": {"domain": ["Close", "20D MA"], "range": ["#60a5fa", "#f59e0b"]},
    "legend": {"orient": "top-left", "offset": 8, "title": null, "fillColor": "#3a404d", "strokeColor": "#596173", "cornerRadius": 4, "padding": 6, "labelColor": "#e5e7eb", "labelFontSize": 16, "labelFont": "DejaVu Sans", "symbolType": "stroke", "symbolSize": 1369, "symbolStrokeWidth": 3, "symbolOffset": 9, "labelOffset": 22, "rowPadding": 6,
      "encode": {"symbols": {"update": {"strokeWidth": {"signal": "datum.value === 'Close' ? 3.5 : 2"}}}}}}
 }},
{"data": {"name": "ma"}, "mark": {"type": "line", "strokeWidth": 2},
 "encoding": {
  "x": {"field": "date", "type": "temporal"},
  "y": {"field": "ma", "type": "quantitative"},
  "color": {"datum": "20D MA"}
 }},
{"data": {"name": "last"}, "mark": {"type": "point", "filled": true, "size": 125, "color": "#ffffff", "opacity": 1},
 "encoding": {"x": {"field": "date", "type": "temporal"}, "y": {"field": "close", "type": "quantitative"}}},
{"data": {"name": "last"}, "mark": {"type": "rect", "fill": "#111827", "stroke": "#4b5563", "strokeWidth": 1.2, "cornerRadius": 4, "xOffset": 21, "x2Offset": 172, "yOffset": -37, "y2Offset": -13},
 "encoding": {"x": {"field": "date", "type": "temporal"}, "x2": {"field": "date"}, "y": {"field": "close", "type": "quantitative"}, "y2": {"field": "close"}}},
{"data": {"name": "last"}, "mark": {"type": "text", "align": "left", "baseline": "middle", "dx": 26, "dy": -25, "fontSize": 16, "font": "DejaVu Sans", "color": "#f3f4f6"},
 "encoding": {"x": {"field": "date", "type": "temporal"}, "y": {"field": "close", "type": "quantitative"}, "text": {"field": "label"}}}
]
},
{
"width": 1859, "height": 252,
"data": {"name": "vol"},
"mark": {"type": "bar", "size": 3.5},
"encoding": {
 "x": {"field": "date", "type": "temporal", "scale": {"type": "utc", "domain": [1708254144000, 1777553856000]},
       "axis": {"values": [1711929600000,1719792000000,1727740800000,1735689600000,1743465600000,1751328000000,1759276800000,1767225600000,1775001600000], "title": "Date", "labelPadding": 5, "titlePadding": 7,
                "labelExpr": "utcFormat(datum.value, '%m') == '01' ? utcFormat(datum.value, '%Y') : utcFormat(datum.value, '%b')"}},
 "y": {"field": "volume", "type": "quantitative", "scale": {"domain": [0, 5967000], "nice": false},
       "axis": {"title": "Volume", "values": [0,1000000,2000000,3000000,4000000,5000000], "labelExpr": "datum.value == 0 ? '0K' : format(datum.value / 1000000, '.1f') + 'M'"}},
 "color": {"field": "dir", "type": "nominal", "scale": {"domain": ["down", "up"], "range": ["#c43c44", "#22a150"]}, "legend": null}
}
}
]
}
